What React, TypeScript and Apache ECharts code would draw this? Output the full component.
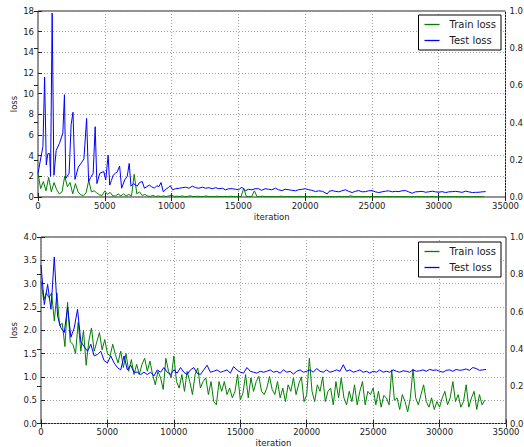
import React, { useEffect, useRef } from "react";
import * as echarts from "echarts";

// ---------- axis ranges / ticks ----------
const X_MIN = 0;
const X_MAX = 35000;
const X_INTERVAL = 5000;
const TOP_Y_MAX = 18;
const TOP_Y_INTERVAL = 2;
const BOTTOM_Y_MAX = 4;
const BOTTOM_Y_INTERVAL = 0.5;
const RIGHT_Y_MAX = 1;
const RIGHT_Y_INTERVAL = 0.2;

const SERIES_NAMES = ["Train loss", "Test loss"];
const X_NAME = "iteration";
const Y_NAME = "loss";

// ---------- top chart ----------
// train loss sampled every 200 iterations
const TOP_TRAIN_STEP = 200;
const topTrainLoss = [
  2.3, 0.8, 1.5, 0.6, 1.9, 0.5, 1.4, 0.7, 0.3, 0.5,
  2.0, 1.0, 1.4, 0.3, 1.3, 0.5, 0.2, 0.15, 0.4, 1.6,
  0.5, 0.6, 0.4, 0.2, 0.15, 0.6, 0.25, 0.45, 0.1, 0.1,
  0.3, 0.1, 0.3, 0.1, 0.25, 0.1, 2.2, 0.3, 0.5, 0.15,
  0.25, 0.1, 0.05, 0.15, 0.05, 0.1, 0.05, 0.1, 0.05, 0.1,
  0.2, 0.05, 0.08, 0.04, 0.1, 0.03, 0.06, 0.12, 0.04, 0.05,
  0.08, 0.03, 0.05, 0.1, 0.04, 0.06, 0.03, 0.08, 0.05, 0.04,
  0.06, 0.03, 0.08, 0.05, 0.04, 0.06, 0.03, 0.85, 0.05, 0.04,
  0.06, 0.6, 0.04, 0.05, 0.08, 0.03, 0.05, 0.04, 0.06, 0.03,
  0.05, 0.08, 0.03, 0.04, 0.06, 0.03, 0.05, 0.04, 0.07, 0.03,
  0.05, 0.04, 0.03, 0.06, 0.04, 0.03, 0.05, 0.04, 0.03, 0.05,
  0.04, 0.03, 0.05, 0.06, 0.03, 0.04, 0.03, 0.12, 0.04, 0.03,
  0.05, 0.03, 0.04, 0.03, 0.05, 0.04, 0.03, 0.05, 0.03, 0.04,
  0.03, 0.05, 0.04, 0.03, 0.04, 0.03, 0.05, 0.03, 0.04, 0.03,
  0.04, 0.03, 0.05, 0.03, 0.04, 0.03, 0.03, 0.05, 0.04, 0.03,
  0.03, 0.04, 0.03, 0.05, 0.03, 0.04, 0.03, 0.03, 0.04, 0.03,
  0.04, 0.03, 0.03, 0.05, 0.03, 0.04, 0.03, 0.03,
];

// test loss (irregular sampling)
const topTestIter = [
  0, 370, 495, 620, 740, 870, 940, 1060, 1190, 1360,
  1610, 1860, 1980, 2080, 2330, 2480, 2620, 2770, 3020, 3250,
  3440, 3640, 3790, 3950, 4130, 4280, 4410, 4630, 4800, 4930,
  5070, 5250, 5370, 5500, 5620, 5800, 5920, 6110, 6260, 6490,
  6680, 6830, 6960, 7150, 7300, 7430, 7600, 7800, 7970, 8150,
  8340, 8500, 8710, 8900, 9050, 9210, 9380, 9580, 9750, 9900,
  10070, 10300, 10570, 10800, 11060, 11300, 11560, 11800, 12050, 12300,
  12550, 12800, 13040, 13300, 13540, 13800, 14030, 14300, 14530, 14800,
  15020, 15270, 15520, 15750, 16010, 16250, 16510, 16750, 17000, 17280,
  17500, 17780, 18000, 18280, 18500, 18780, 19000, 19280, 19500, 19780,
  20000, 20280, 20500, 20780, 21000, 21300, 21650, 21800, 22020, 22250,
  22520, 22750, 23020, 23250, 23520, 23750, 24020, 24250, 24520, 24750,
  25020, 25250, 25520, 25750, 26020, 26250, 26520, 26750, 27020, 27250,
  27520, 27750, 28020, 28250, 28520, 28750, 29020, 29250, 29520, 29750,
  30020, 30250, 30520, 30750, 31020, 31250, 31520, 31750, 32020, 32250,
  32520, 32750, 33020, 33250, 33520,
];
const topTestLoss = [
  2.3, 4.9, 11.6, 3.1, 4.2, 4.2, 2.0, 17.8, 2.1, 4.5,
  5.2, 6.2, 9.9, 1.8, 2.3, 7.0, 8.2, 1.7, 2.9, 3.3,
  3.7, 7.6, 1.5, 1.9, 2.3, 6.8, 1.3, 2.3, 2.4, 2.45,
  1.65, 4.05, 1.15, 1.6, 2.1, 2.3, 2.4, 3.0, 0.85, 1.65,
  2.0, 3.25, 1.05, 1.3, 1.15, 1.05, 1.4, 1.5, 0.85, 1.0,
  1.15, 1.0, 0.85, 1.1, 1.0, 1.4, 0.5, 0.75, 0.9, 1.1,
  0.7, 0.8, 0.85, 0.9, 0.95, 0.85, 1.05, 0.9, 0.85, 0.95,
  0.85, 0.9, 0.8, 0.9, 0.8, 0.85, 0.7, 0.8, 0.8, 0.75,
  0.7, 0.95, 0.6, 0.75, 0.7, 0.8, 0.8, 0.65, 0.8, 0.75,
  0.7, 0.85, 0.7, 0.62, 0.75, 0.7, 0.65, 0.6, 0.7, 0.75,
  0.8, 0.7, 0.65, 0.52, 0.6, 0.55, 0.3, 0.55, 0.62, 0.55,
  0.5, 0.6, 0.7, 0.55, 0.43, 0.55, 0.62, 0.5, 0.52, 0.6,
  0.62, 0.5, 0.43, 0.5, 0.56, 0.6, 0.5, 0.55, 0.52, 0.6,
  0.62, 0.5, 0.36, 0.5, 0.52, 0.55, 0.46, 0.5, 0.56, 0.5,
  0.46, 0.52, 0.43, 0.5, 0.52, 0.55, 0.5, 0.45, 0.56, 0.5,
  0.43, 0.45, 0.46, 0.5, 0.52,
];

// ---------- bottom chart ----------
const BOTTOM_TRAIN_STEP = 200;
const bottomTrainLoss = [
  3.05, 2.65, 2.8, 2.7, 2.8, 2.2, 2.8, 2.1, 2.15, 1.65,
  2.6, 1.75, 1.7, 1.5, 2.17, 1.55, 2.0, 1.25, 1.77, 2.05,
  1.55, 1.75, 1.95, 1.58, 1.8, 1.5, 1.45, 1.7, 1.48, 1.3,
  1.55, 1.2, 1.5, 1.12, 1.37, 1.05, 1.27, 1.05, 1.27, 1.4,
  1.12, 1.34, 1.05, 0.83, 1.12, 0.98, 0.73, 1.4, 1.12, 0.98,
  1.45, 0.9, 0.76, 1.05, 0.69, 1.12, 0.9, 0.62, 1.05, 1.19,
  0.76, 0.9, 0.98, 0.62, 0.9, 0.47, 0.4, 0.9, 0.69, 0.9,
  0.62, 0.76, 0.55, 0.69, 1.05, 0.51, 0.65, 1.05, 0.55, 0.98,
  0.69, 0.9, 1.01, 0.69, 0.62, 0.76, 1.01, 0.73, 0.62, 0.9,
  0.55, 0.76, 0.47, 0.83, 0.69, 0.98, 0.62, 0.85, 1.0, 0.47,
  0.62, 1.4, 0.69, 0.47, 0.83, 0.69, 1.0, 0.47, 0.69, 0.76,
  0.4, 0.9, 0.55, 0.98, 0.55, 0.4, 0.69, 0.47, 0.83, 0.4,
  0.69, 0.9, 0.4, 0.69, 0.62, 0.76, 0.4, 0.69, 0.35, 0.6,
  0.55, 0.4, 1.15, 0.5, 0.55, 0.3, 0.62, 0.47, 0.25, 0.55,
  1.17, 0.55, 0.4, 0.62, 0.83, 0.47, 0.35, 0.55, 0.3, 0.47,
  0.35, 0.55, 0.69, 0.4, 0.55, 0.9, 0.47, 0.62, 0.35, 0.47,
  0.83, 0.35, 0.55, 0.69, 0.3, 0.62, 0.4, 0.5,
];

const BOTTOM_TEST_STEP = 250;
const bottomTestLoss = [
  3.4, 2.55, 2.98, 2.45, 3.57, 2.3, 2.05, 1.95, 2.5, 1.85,
  2.05, 2.45, 1.75, 1.65, 1.55, 1.7, 1.45, 1.48, 1.55, 1.35,
  1.3, 1.45, 1.3, 1.2, 1.15, 1.45, 1.15, 1.25, 1.1, 1.1,
  1.05, 1.1, 1.05, 1.1, 1.02, 1.15, 1.1, 1.2, 1.1, 1.05,
  1.15, 1.08, 1.2, 1.1, 1.05, 1.15, 1.2, 1.08, 1.05, 1.15,
  1.25, 1.1, 1.12, 1.15, 1.1, 1.12, 1.15, 1.08, 1.22, 1.15,
  1.1, 1.08, 1.2, 1.12, 1.1, 1.08, 1.12, 1.1, 1.12, 1.15,
  1.1, 1.12, 1.08, 1.15, 1.1, 1.12, 1.06, 1.12, 1.15, 1.1,
  1.12, 1.15, 1.1, 1.18, 1.12, 1.1, 1.15, 1.1, 1.12, 1.15,
  1.12, 1.26, 1.12, 1.15, 1.1, 1.12, 1.15, 1.1, 1.12, 1.08,
  1.12, 1.1, 1.15, 1.1, 1.12, 1.1, 1.15, 1.12, 1.1, 1.13,
  1.12, 1.1, 1.15, 1.12, 1.13, 1.15, 1.12, 1.16, 1.14, 1.15,
  1.12, 1.1, 1.14, 1.15, 1.12, 1.16, 1.14, 1.15, 1.17, 1.14,
  1.2, 1.18, 1.14, 1.15, 1.16,
];

// ---------- styling ----------
const FONT = "DejaVu Sans";
const TEXT_COLOR = "#1a1a1a";
const FRAME_COLOR = "#222";
const GRID_LINE_COLOR = "#a0a0a0";
const TRAIN_COLOR = "#008000";
const TEST_COLOR = "#0000ff";

const App: React.FC = () => {
  const ref = useRef<HTMLDivElement>(null);

  useEffect(() => {
    if (!ref.current) return;
    const chart = echarts.init(ref.current, undefined, { renderer: "svg" });

    const labelBase = { fontFamily: FONT, fontSize: 8.5, color: TEXT_COLOR };
    const tickInside = { show: true, inside: true, length: 4, lineStyle: { color: FRAME_COLOR, width: 1 } };
    const dotted = { show: true, lineStyle: { color: GRID_LINE_COLOR, type: [1, 2], width: 1 } };

    const grids = [
      { left: 38, top: 11, width: 467.5, height: 186 },
      { left: 41, top: 237, width: 465, height: 186.5 },
    ];

    const xAxes: any[] = [];
    const yAxes: any[] = [];
    grids.forEach((g, gi) => {
      xAxes.push({
        type: "value",
        gridIndex: gi,
        min: X_MIN,
        max: X_MAX,
        interval: X_INTERVAL,
        position: "bottom",
        axisLine: { show: false },
        axisTick: tickInside,
        axisLabel: { ...labelBase, margin: 4, formatter: (v: number) => String(v) },
        splitLine: dotted,
        name: X_NAME,
        nameLocation: "middle",
        nameGap: 15,
        nameTextStyle: { ...labelBase },
      });
      xAxes.push({
        type: "value",
        gridIndex: gi,
        min: X_MIN,
        max: X_MAX,
        interval: X_INTERVAL,
        position: "top",
        axisLine: { show: false },
        axisTick: tickInside,
        axisLabel: { show: false },
        splitLine: { show: false },
      });
      const yMax = gi === 0 ? TOP_Y_MAX : BOTTOM_Y_MAX;
      const yInt = gi === 0 ? TOP_Y_INTERVAL : BOTTOM_Y_INTERVAL;
      yAxes.push({
        type: "value",
        gridIndex: gi,
        min: 0,
        max: yMax,
        interval: yInt,
        position: "left",
        axisLine: { show: false },
        axisTick: tickInside,
        axisLabel: {
          ...labelBase,
          margin: 4,
          formatter: (v: number) => (gi === 0 ? String(v) : v.toFixed(1)),
        },
        splitLine: dotted,
        name: Y_NAME,
        nameLocation: "middle",
        nameGap: gi === 0 ? 20 : 23,
        nameMoveOverlap: false,
        nameRotate: 90,
        nameTextStyle: { ...labelBase },
      });
      yAxes.push({
        type: "value",
        gridIndex: gi,
        min: 0,
        max: RIGHT_Y_MAX,
        interval: RIGHT_Y_INTERVAL,
        position: "right",
        axisLine: { show: false },
        axisTick: tickInside,
        axisLabel: { ...labelBase, margin: 4, formatter: (v: number) => v.toFixed(1) },
        splitLine: { show: false },
      });
    });

    const lineSeries = (name: string, color: string, data: number[][], xi: number, yi: number, z: number) => ({
      name,
      type: "line",
      xAxisIndex: xi,
      yAxisIndex: yi,
      data,
      symbol: "none",
      showSymbol: false,
      smooth: false,
      lineStyle: { color, width: 1 },
      itemStyle: { color },
      z,
    });

    const topTrain = topTrainLoss.map((v, i) => [i * TOP_TRAIN_STEP, v]);
    const topTest = topTestLoss.map((v, i) => [topTestIter[i], v]);
    const bottomTrain = bottomTrainLoss.map((v, i) => [i * BOTTOM_TRAIN_STEP, v]);
    const bottomTest = bottomTestLoss.map((v, i) => [i * BOTTOM_TEST_STEP, v]);

    const legendBase = {
      data: SERIES_NAMES.map((n) => ({ name: n, icon: "rect" })),
      orient: "vertical",
      right: 23,
      itemWidth: 15,
      itemHeight: 1.3,
      itemGap: 5,
      padding: [4, 5, 4, 6],
      borderColor: "#000",
      borderWidth: 1,
      backgroundColor: "#fff",
      textStyle: { fontFamily: FONT, fontSize: 10, color: TEXT_COLOR, padding: [0, 0, 0, 5], lineHeight: 11 },
    };

    chart.setOption({
      animation: false,
      backgroundColor: "#fff",
      grid: grids.map((g) => ({
        ...g,
        show: true,
        borderColor: FRAME_COLOR,
        borderWidth: 1,
        backgroundColor: "transparent",
        containLabel: false,
        outerBoundsMode: "none",
      })),
      xAxis: xAxes,
      yAxis: yAxes,
      legend: [
        { ...legendBase, top: 15 },
        { ...legendBase, top: 242 },
      ],
      series: [
        lineSeries(SERIES_NAMES[0], TRAIN_COLOR, topTrain, 0, 0, 2),
        lineSeries(SERIES_NAMES[1], TEST_COLOR, topTest, 0, 0, 3),
        lineSeries(SERIES_NAMES[0], TRAIN_COLOR, bottomTrain, 2, 2, 2),
        lineSeries(SERIES_NAMES[1], TEST_COLOR, bottomTest, 2, 2, 3),
      ],
    });

    return () => chart.dispose();
  }, []);

  return (
    <div
      ref={ref}
      style={{ position: "fixed", left: 0, top: 0, width: 524, height: 447, background: "#fff" }}
    />
  );
};

export default App;
